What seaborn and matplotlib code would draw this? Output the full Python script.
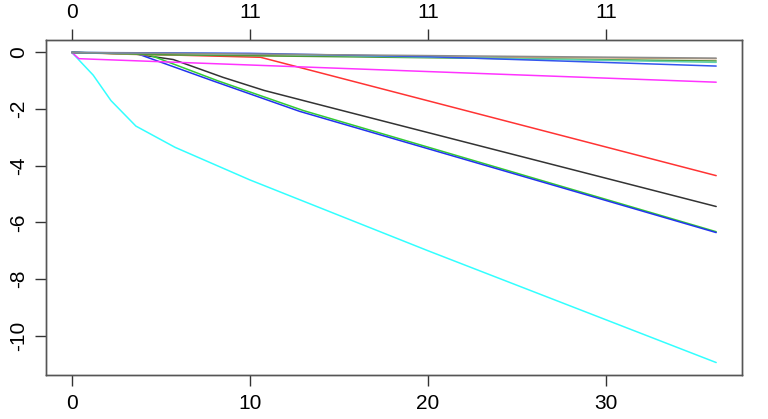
"""
Coefficient path plot (glmnet style) redrawn with seaborn
"""

import matplotlib
matplotlib.use('Agg')
import matplotlib.pyplot as plt
import seaborn as sns
import pandas as pd

# knots of each coefficient path: L1 norm -> coefficient value
coef_names = ['b1', 'b2', 'b3', 'b4', 'b5', 'b6', 'b7', 'b8', 'b9', 'b10', 'b11']
path_x = {
    'b1': [0, 3.5, 5.7, 8.5, 10.8, 14.5, 36.2],
    'b2': [0, 10.6, 36.2],
    'b3': [0, 4.2, 8.2, 13.0, 36.2],
    'b4': [0, 3.7, 8.0, 12.8, 36.2],
    'b5': [0, 0.3, 1.2, 2.2, 3.6, 5.8, 10.0, 20.0, 36.2],
    'b6': [0, 0.4, 36.2],
    'b7': [0, 4.0, 36.2],
    'b8': [0, 5.0, 36.2],
    'b9': [0, 10.0, 36.2],
    'b10': [0, 10.0, 20.0, 36.2],
    'b11': [0, 36.2],
}
path_y = {
    'b1': [0, -0.05, -0.25, -0.88, -1.34, -1.94, -5.44],
    'b2': [0, -0.17, -4.35],
    'b3': [0, -0.05, -1.0, -2.05, -6.33],
    'b4': [0, -0.05, -1.02, -2.08, -6.36],
    'b5': [0, -0.2, -0.8, -1.7, -2.6, -3.35, -4.5, -7.0, -10.95],
    'b6': [0, -0.22, -1.05],
    'b7': [0, -0.08, -0.22],
    'b8': [0, -0.08, -0.3],
    'b9': [0, -0.05, -0.35],
    'b10': [0, -0.03, -0.15, -0.48],
    'b11': [0, -0.2],
}
line_colors = ['#333333', '#FF3333', '#33CC33', '#2233EE', '#33FFFF', '#FF33FF',
               '#C8A070', '#4E9A3A', '#5FD3B0', '#3355EE', '#8C8C8C']

top_ticks = [0, 10, 20, 30]
top_labels = ['0', '11', '11', '11']
bottom_ticks = [0, 10, 20, 30]
y_ticks = [0, -2, -4, -6, -8, -10]

rows = []
for name in coef_names:
    for xv, yv in zip(path_x[name], path_y[name]):
        rows.append({'norm': xv, 'coef': yv, 'var': name})
df = pd.DataFrame(rows)

sns.set_style('white')
plt.rcParams['font.family'] = ['Liberation Sans', 'DejaVu Sans']

fig, ax = plt.subplots(figsize=(7.68, 4.19), dpi=100)
fig.subplots_adjust(left=46 / 768, right=742 / 768, top=1 - 40 / 419, bottom=1 - 375 / 419)

sns.lineplot(data=df, x='norm', y='coef', hue='var', hue_order=coef_names,
             palette=line_colors, estimator=None, sort=True, linewidth=1.1,
             legend=False, ax=ax)

ax.set_xlim(-1.45, 37.65)
ax.set_ylim(-11.39, 0.44)
ax.set_xlabel('')
ax.set_ylabel('')

ax.set_xticks(bottom_ticks)
ax.set_yticks(y_ticks)
ax.set_yticklabels([str(v) for v in y_ticks], rotation=90, va='center')
ax.tick_params(axis='both', direction='out', length=8, width=1, colors='#333333',
               labelsize=15, labelcolor='black', left=True, bottom=True)
ax.tick_params(axis='x', pad=6)
ax.tick_params(axis='y', pad=5)

for sp in ax.spines.values():
    sp.set_color('#555555')
    sp.set_linewidth(1.0)

top = ax.twiny()
top.set_xlim(ax.get_xlim())
top.set_xticks(top_ticks)
top.set_xticklabels(top_labels)
top.tick_params(axis='x', direction='out', length=8, width=1, colors='#333333',
                labelsize=15, labelcolor='black', top=True, pad=5)
for sp in top.spines.values():
    sp.set_color('#555555')
    sp.set_linewidth(1.0)

plt.savefig('out.png', dpi=100)
plt.close()
